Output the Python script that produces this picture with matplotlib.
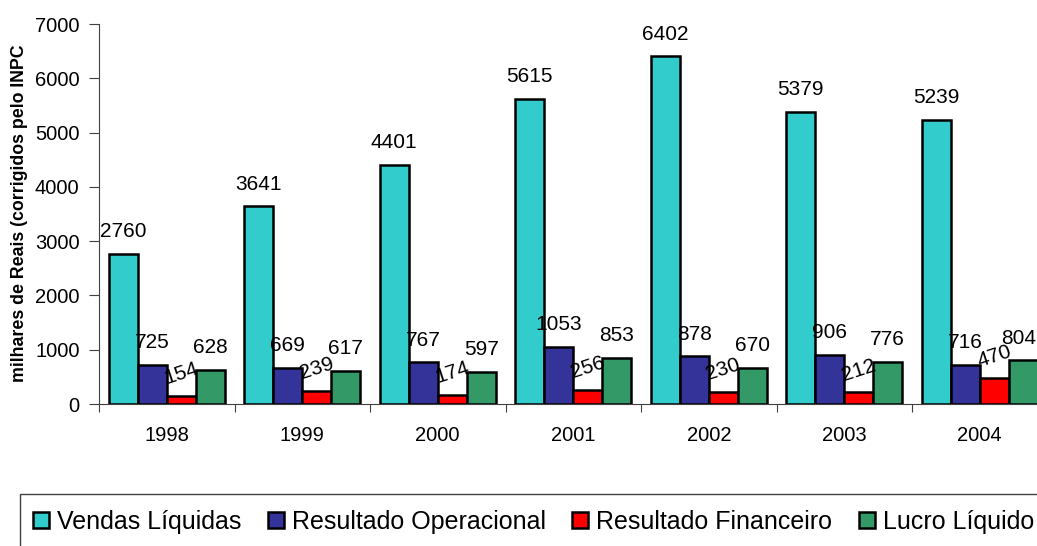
import numpy as np
import matplotlib.pyplot as plt
from matplotlib.patches import Patch, Rectangle

plt.rcParams['font.family'] = ['Liberation Sans', 'DejaVu Sans']

years = ['1998', '1999', '2000', '2001', '2002', '2003', '2004']
vendas = [2760, 3641, 4401, 5615, 6402, 5379, 5239]
operacional = [725, 669, 767, 1053, 878, 906, 716]
financeiro = [154, 239, 174, 256, 230, 212, 470]
lucro = [628, 617, 597, 853, 670, 776, 804]

series = [('Vendas Líquidas', vendas, '#33CCCC'),
          ('Resultado Operacional', operacional, '#333399'),
          ('Resultado Financeiro', financeiro, '#FF0000'),
          ('Lucro Líquido', lucro, '#339966')]

fig = plt.figure(figsize=(10.37, 5.46), dpi=100)
ax = fig.add_axes([99/1037, 1-404/546, 948.5/1037, 380/546])

x = np.arange(len(years))
w = 0.214
labels = []
for i, (name, vals, col) in enumerate(series):
    pos = x + (i - 1.5) * w
    ax.bar(pos, vals, w, color=col, edgecolor='black', linewidth=1.8)
    rot = 18 if i == 2 else 0
    for px, v in zip(pos, vals):
        t = ax.annotate(str(v), (px, v), xytext=(0, 16), textcoords='offset points',
                        ha='center', va='center', fontsize=15, rotation=rot)
        labels.append(t)

ax.set_xlim(-0.5, len(years) - 0.5)
ax.set_ylim(0, 7000)
ax.set_yticks(range(0, 7001, 1000))
ax.set_xticks(np.arange(len(years) + 1) - 0.5)
ax.set_xticklabels([])
ax.set_xticks(x, minor=True)
ax.set_xticklabels(years, minor=True)
ax.tick_params(axis='x', which='major', length=6, direction='out', color='#404040')
ax.tick_params(axis='x', which='minor', length=0, pad=16, labelsize=14.5)
ax.tick_params(axis='y', length=7, pad=7, labelsize=14.5, color='#404040')
for s in ['top', 'right']:
    ax.spines[s].set_visible(False)
for s in ['left', 'bottom']:
    ax.spines[s].set_color('#404040')

fig.text(20/1037, 1-213/546, 'milhares de Reais (corrigidos pelo INPC',
         rotation=90, ha='center', va='center', fontsize=12.8, fontweight='bold')

handles = [Patch(facecolor=c, edgecolor='black', linewidth=1.8) for _, _, c in series]
leg = fig.legend(handles, [n for n, _, _ in series], loc='center left',
                 bbox_to_anchor=(33/1037, 1-522/546), borderaxespad=0, borderpad=0,
                 ncol=4, fontsize=18, handlelength=0.64, handleheight=0.64,
                 handletextpad=0.32, columnspacing=1.06, frameon=False)
fig.patches.append(Rectangle((20/1037, -0.05), 1.0, 0.05 + 52/546, transform=fig.transFigure,
                             facecolor='none', edgecolor='#404040', linewidth=1))

# keep data labels inside the figure, as the original does
fig.canvas.draw()
W = fig.bbox.width
for t in labels:
    bb = t.get_window_extent()
    if bb.x1 > W - 1:
        dx = (bb.x1 - (W - 1)) * 72 / fig.dpi
        t.set_position((-dx, 16))

fig.savefig('out.png', dpi=100)
